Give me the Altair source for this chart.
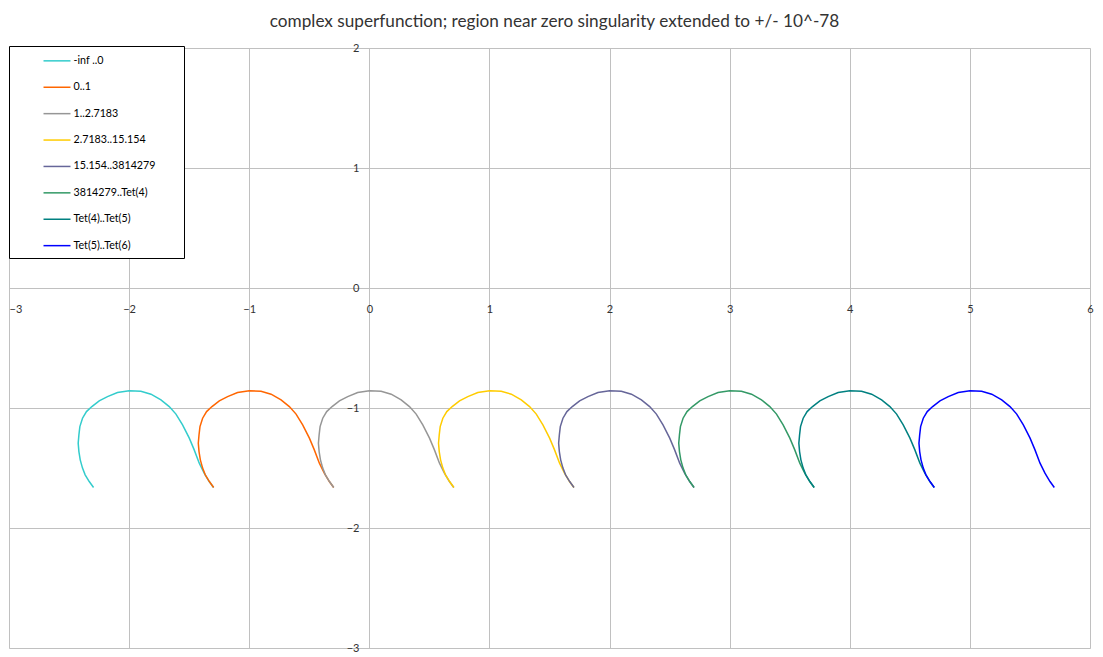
import altair as alt
import pandas as pd

TITLE = "complex superfunction; region near zero singularity extended to +/- 10^-78"
SERIES = ["-inf ..0", "0..1", "1..2.7183", "2.7183..15.154",
          "15.154..3814279", "3814279..Tet(4)", "Tet(4)..Tet(5)", "Tet(5)..Tet(6)"]
COLORS = ["#33CCCC", "#FF6600", "#969696", "#FFCC00",
          "#666699", "#339966", "#008080", "#0000FF"]

# imaginary part (same for every branch)
CURVE_Y = [-1.663, -1.613, -1.557, -1.501, -1.432, -1.363, -1.293, -1.224, -1.155,
           -1.085, -1.030, -0.988, -0.940, -0.905, -0.871, -0.857, -0.860, -0.885,
           -0.932, -0.988, -1.051, -1.141, -1.251, -1.349, -1.460, -1.543, -1.613, -1.663]

X1 = [-2.296, -2.332, -2.366, -2.388, -2.407, -2.418, -2.424, -2.418, -2.410, -2.388,
      -2.355, -2.310, -2.249, -2.180, -2.097, -1.999, -1.902, -1.818, -1.735, -1.666,
      -1.610, -1.555, -1.499, -1.458, -1.416, -1.375, -1.333, -1.297]
X2 = [-1.296, -1.332, -1.366, -1.388, -1.407, -1.418, -1.424, -1.418, -1.410, -1.388,
      -1.355, -1.310, -1.249, -1.180, -1.097, -0.999, -0.902, -0.818, -0.735, -0.666,
      -0.610, -0.555, -0.499, -0.458, -0.416, -0.375, -0.333, -0.297]
X3 = [-0.296, -0.332, -0.366, -0.388, -0.407, -0.418, -0.424, -0.418, -0.410, -0.388,
      -0.355, -0.310, -0.249, -0.180, -0.097, 0.001, 0.098, 0.182, 0.265, 0.334,
      0.390, 0.445, 0.501, 0.542, 0.584, 0.625, 0.667, 0.703]
X4 = [0.704, 0.668, 0.634, 0.612, 0.593, 0.582, 0.576, 0.582, 0.590, 0.612,
      0.645, 0.690, 0.751, 0.820, 0.903, 1.001, 1.098, 1.182, 1.265, 1.334,
      1.390, 1.445, 1.501, 1.542, 1.584, 1.625, 1.667, 1.703]
X5 = [1.704, 1.668, 1.634, 1.612, 1.593, 1.582, 1.576, 1.582, 1.590, 1.612,
      1.645, 1.690, 1.751, 1.820, 1.903, 2.001, 2.098, 2.182, 2.265, 2.334,
      2.390, 2.445, 2.501, 2.542, 2.584, 2.625, 2.667, 2.703]
X6 = [2.704, 2.668, 2.634, 2.612, 2.593, 2.582, 2.576, 2.582, 2.590, 2.612,
      2.645, 2.690, 2.751, 2.820, 2.903, 3.001, 3.098, 3.182, 3.265, 3.334,
      3.390, 3.445, 3.501, 3.542, 3.584, 3.625, 3.667, 3.703]
X7 = [3.704, 3.668, 3.634, 3.612, 3.593, 3.582, 3.576, 3.582, 3.590, 3.612,
      3.645, 3.690, 3.751, 3.820, 3.903, 4.001, 4.098, 4.182, 4.265, 4.334,
      4.390, 4.445, 4.501, 4.542, 4.584, 4.625, 4.667, 4.703]
X8 = [4.704, 4.668, 4.634, 4.612, 4.593, 4.582, 4.576, 4.582, 4.590, 4.612,
      4.645, 4.690, 4.751, 4.820, 4.903, 5.001, 5.098, 5.182, 5.265, 5.334,
      5.390, 5.445, 5.501, 5.542, 5.584, 5.625, 5.667, 5.703]

X_TICKS = [-3, -2, -1, 0, 1, 2, 3, 4, 5, 6]
Y_TICKS = [-3, -2, -1, 0, 1, 2]

rows = []
for name, xs in zip(SERIES, [X1, X2, X3, X4, X5, X6, X7, X8]):
    for i, (xv, yv) in enumerate(zip(xs, CURVE_Y)):
        rows.append({"series": name, "x": xv, "y": yv, "idx": i})
df = pd.DataFrame(rows)

FONT = "Lato"
TXT = "#333333"
GRID = "#C0C0C0"

lines = alt.Chart(df).mark_line(strokeWidth=1.5).encode(
    x=alt.X("x:Q", scale=alt.Scale(domain=[-3, 6], nice=False, zero=False),
            axis=alt.Axis(values=X_TICKS, title=None, offset=-360, domain=False,
                          ticks=False, tickSize=0, labelPadding=15, labelFlush=False,
                          labelAlign={"condition": {"test": "datum.value == -3", "value": "left"},
                                      "value": "center"},
                          labelOverlap=False, grid=True, gridColor=GRID,
                          labelFont=FONT, labelFontSize=11, labelColor=TXT)),
    y=alt.Y("y:Q", scale=alt.Scale(domain=[-3, 2], nice=False, zero=False),
            axis=alt.Axis(values=Y_TICKS, title=None, offset=-360, domain=False,
                          ticks=False, tickSize=0, labelPadding=10, labelFlush=False,
                          labelOverlap=False, grid=True, gridColor=GRID,
                          labelFont=FONT, labelFontSize=11, labelColor=TXT)),
    color=alt.Color("series:N", scale=alt.Scale(domain=SERIES, range=COLORS),
                    sort=SERIES,
                    legend=alt.Legend(title=" ", titleOrient="right", titlePadding=20.6,
                                      orient="none", legendX=0, legendY=-2,
                                      fillColor="white", strokeColor="black",
                                      padding=7.35, symbolType="M-2,0H2", symbolSize=182,
                                      symbolStrokeWidth=1.5, symbolOffset=33.15,
                                      labelOffset=9, rowPadding=13.4,
                                      labelFont=FONT, labelFontSize=10.7,
                                      labelColor="black")),
    order=alt.Order("idx:Q"),
    detail="series:N",
)

title = alt.Chart(pd.DataFrame({"t": [TITLE]})).mark_text(
    font=FONT, fontSize=17.2, color=TXT, align="center", baseline="alphabetic"
).encode(text="t:N", x=alt.value(545.5), y=alt.value(-21.5))

chart = alt.layer(lines, title).properties(
    width=1081, height=600,
    autosize=alt.AutoSizeParams(type="none"),
    padding={"left": 1, "top": 40, "right": 5, "bottom": 8},
).configure_view(stroke=None).configure(background="white")

chart.save("out.html", embed_options={"renderer": "svg", "actions": False})
